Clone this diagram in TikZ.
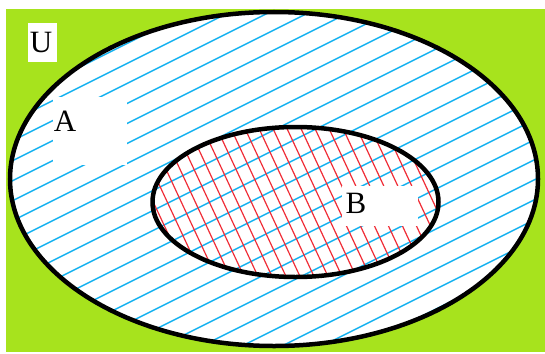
\documentclass[tikz,border=0pt]{standalone}
\usepackage{fontspec}
\setmainfont{Liberation Serif}
\definecolor{bggreen}{RGB}{167,227,29}
\definecolor{hblue}{RGB}{20,178,240}
\definecolor{hred}{RGB}{240,45,55}
\tikzset{
  border/.style={draw=black,line width=4.5pt},
  bluehatch/.style={draw=hblue,line width=1.4pt},
  redhatch/.style={draw=hred,line width=1.2pt},
  lbl/.style={font=\fontsize{31}{33}\selectfont,inner sep=0pt},
  patch/.style={fill=white,draw=none}
}
\begin{document}
\begin{tikzpicture}[x=1pt,y=-1pt]
\useasboundingbox (0,0) rectangle (545,353);
\fill[bggreen] (6,9) rectangle (545,352);
% outer set A
\fill[white] (274,179) ellipse [x radius=264, y radius=167];
\begin{scope}
  \clip (274,179) ellipse [x radius=264, y radius=167];
  \foreach \c in {7,27,...,647} \draw[bluehatch] (0,\c) -- (545,\c-272.5);
\end{scope}
\begin{scope}
  \clip (295.5,202) ellipse [x radius=143, y radius=75];
  \foreach \a in {101,115,...,480} \draw[redhatch] (\a-28,120) -- (\a+49,285);
\end{scope}
% white patches behind labels
\fill[patch] (53,97) rectangle (127,165);
\fill[patch] (342,186) rectangle (418,226);
\fill[patch] (28,23) rectangle (57,62);
% borders
\draw[border] (274,179) ellipse [x radius=264, y radius=167];
\draw[border] (295.5,202) ellipse [x radius=143, y radius=75];
% labels
\node[lbl] (U) at (41,43) {U};
\node[lbl] (A) at (65,121) {A};
\node[lbl] (B) at (356,203) {B};
\end{tikzpicture}
\end{document}
